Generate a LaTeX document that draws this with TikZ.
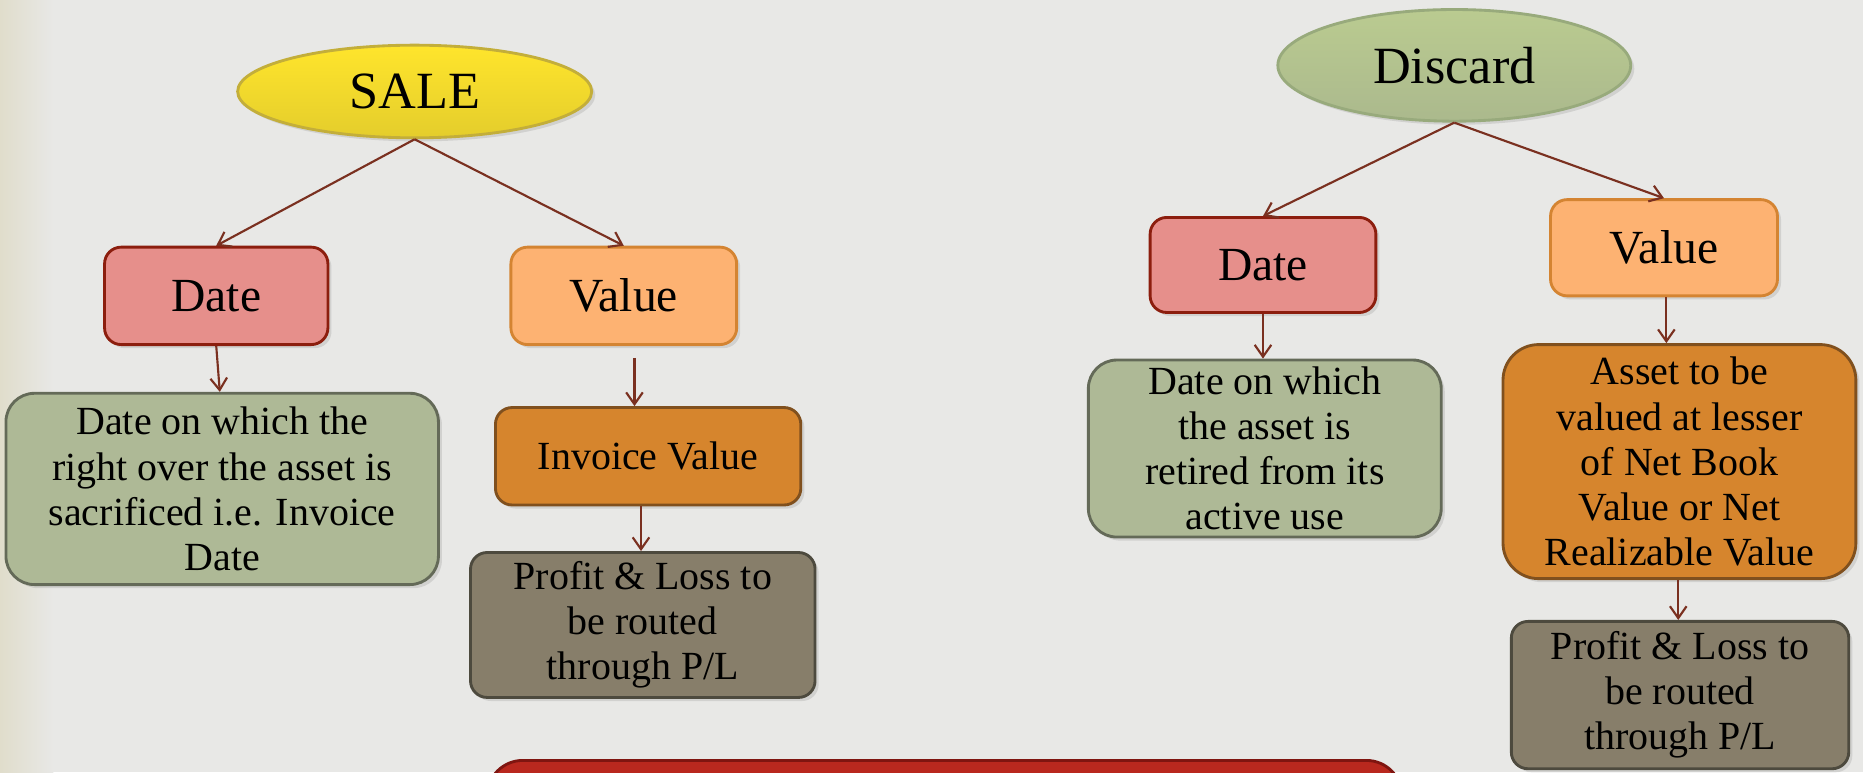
\documentclass[tikz,border=0pt]{standalone}
\usepackage{fontspec}
\setmainfont{Liberation Serif}
\usetikzlibrary{arrows.meta,shapes.geometric,shadows}
\definecolor{bgc}{HTML}{E8E8E6}
\definecolor{bgleft}{HTML}{E0DDCB}
\definecolor{arrowc}{HTML}{7A3020}
\definecolor{datef}{HTML}{E68F8B}
\definecolor{dated}{HTML}{8C1E0E}
\definecolor{valf}{HTML}{FDB272}
\definecolor{vald}{HTML}{D48432}
\definecolor{greenf}{HTML}{AEB996}
\definecolor{greend}{HTML}{646A58}
\definecolor{orf}{HTML}{D6852D}
\definecolor{ord}{HTML}{80501E}
\definecolor{plf}{HTML}{877E6A}
\definecolor{pld}{HTML}{4D4A3E}
\definecolor{redf}{HTML}{B9281E}
\definecolor{redd}{HTML}{7F1510}
\definecolor{saletop}{HTML}{FFE52C}
\definecolor{salebot}{HTML}{E4CD2C}
\definecolor{saled}{HTML}{C3AE3A}
\definecolor{distop}{HTML}{BACB90}
\definecolor{disbot}{HTML}{ABB98D}
\definecolor{disd}{HTML}{98AA7C}
\tikzset{
  shad/.style={drop shadow={opacity=0.22,shadow xshift=1.5pt,shadow yshift=-1.5pt}},
  boxbase/.style={rectangle, rounded corners=7pt, line width=1.2pt, align=center, inner sep=2pt, shad},
  smallbox/.style={boxbase, font=\fontsize{20}{23}\selectfont},
  textbox/.style={boxbase, font=\fontsize{16.8}{19}\selectfont},
  datebox/.style={smallbox, fill=datef, draw=dated},
  valbox/.style={smallbox, fill=valf, draw=vald},
  greenbox/.style={textbox, fill=greenf, draw=greend, rounded corners=12pt},
  orbox/.style={textbox, fill=orf, draw=ord},
  plbox/.style={textbox, fill=plf, draw=pld},
  topell/.style={ellipse, inner sep=0pt, line width=1.2pt, font=\fontsize{22}{26}\selectfont, shad},
  arr/.style={draw=arrowc, line width=0.9pt, -{Straight Barb[length=5pt,width=7pt,line width=0.9pt]}}
}
\begin{document}
\begin{tikzpicture}[x=0.5pt,y=-0.5pt]
\useasboundingbox (0,0) rectangle (1568,650);
\clip (0,0) rectangle (1568,650);
\fill[bgc] (0,0) rectangle (1568,650);
\shade[left color=bgleft, right color=bgc] (0,0) rectangle (45,650);

% SALE side
\node[topell, top color=saletop, bottom color=salebot, draw=saled, minimum width=149pt, minimum height=39pt] (sale) at (349,77) {SALE};
\node[datebox, minimum width=94pt, minimum height=41pt] (ldate) at (182,249) {Date};
\node[valbox, minimum width=95pt, minimum height=41pt] (lvalue) at (525,249) {Value};
\node[greenbox, minimum width=182pt, minimum height=80.5pt] (lgreen) at (187,411.5) {Date on which the\\right over the asset is\\sacrificed i.e. Invoice\\Date};
\node[orbox, minimum width=128.5pt, minimum height=41pt] (linv) at (545.5,384) {Invoice Value};
\node[plbox, minimum width=145pt, minimum height=61pt] (lpl) at (541,526) {Profit \& Loss to\\be routed\\through P/L};

% Discard side
\node[topell, top color=distop, bottom color=disbot, draw=disd, minimum width=148.5pt, minimum height=47pt] (discard) at (1224,55) {Discard};
\node[datebox, minimum width=95pt, minimum height=40pt] (rdate) at (1063,223) {Date};
\node[valbox, minimum width=95.5pt, minimum height=40.5pt] (rvalue) at (1400.5,208.5) {Value};
\node[greenbox, minimum width=148.5pt, minimum height=74.5pt] (rgreen) at (1064.5,377.5) {Date on which\\the asset is\\retired from its\\active use};
\node[orbox, rounded corners=15pt, minimum width=148.5pt, minimum height=98.5pt] (asset) at (1413.5,388.5) {Asset to be\\valued at lesser\\of Net Book\\Value or Net\\Realizable Value};
\node[plbox, minimum width=142pt, minimum height=62pt] (rpl) at (1414,585) {Profit \& Loss to\\be routed\\through P/L};

% bottom red box (cut off)
\node[boxbase, fill=redf, draw=redd, rounded corners=15pt, minimum width=385pt, minimum height=40pt] (redbox) at (795,680) {};

% connectors
\draw[arr] (sale.south) -- (ldate.north);
\draw[arr] (sale.south) -- (lvalue.north);
\draw[arr] (ldate.south) -- ([xshift=1.5pt]ldate.south |- lgreen.north);
\draw[arr, shorten <=5pt] ([xshift=4.5pt]lvalue.south) -- ([xshift=4.5pt]lvalue.south |- linv.north);
\draw[arr] ([xshift=-3pt]linv.south) -- ([xshift=-3pt]linv.south |- lpl.north);

\draw[arr] (discard.south) -- (rdate.north);
\draw[arr] (discard.south) -- (rvalue.north);
\draw[arr] (rdate.south) -- (rdate.south |- rgreen.north);
\draw[arr] ([xshift=1pt]rvalue.south) -- ([xshift=1pt]rvalue.south |- asset.north);
\draw[arr] ([xshift=-0.5pt]asset.south) -- ([xshift=-0.5pt]asset.south |- rpl.north);
\end{tikzpicture}
\end{document}
